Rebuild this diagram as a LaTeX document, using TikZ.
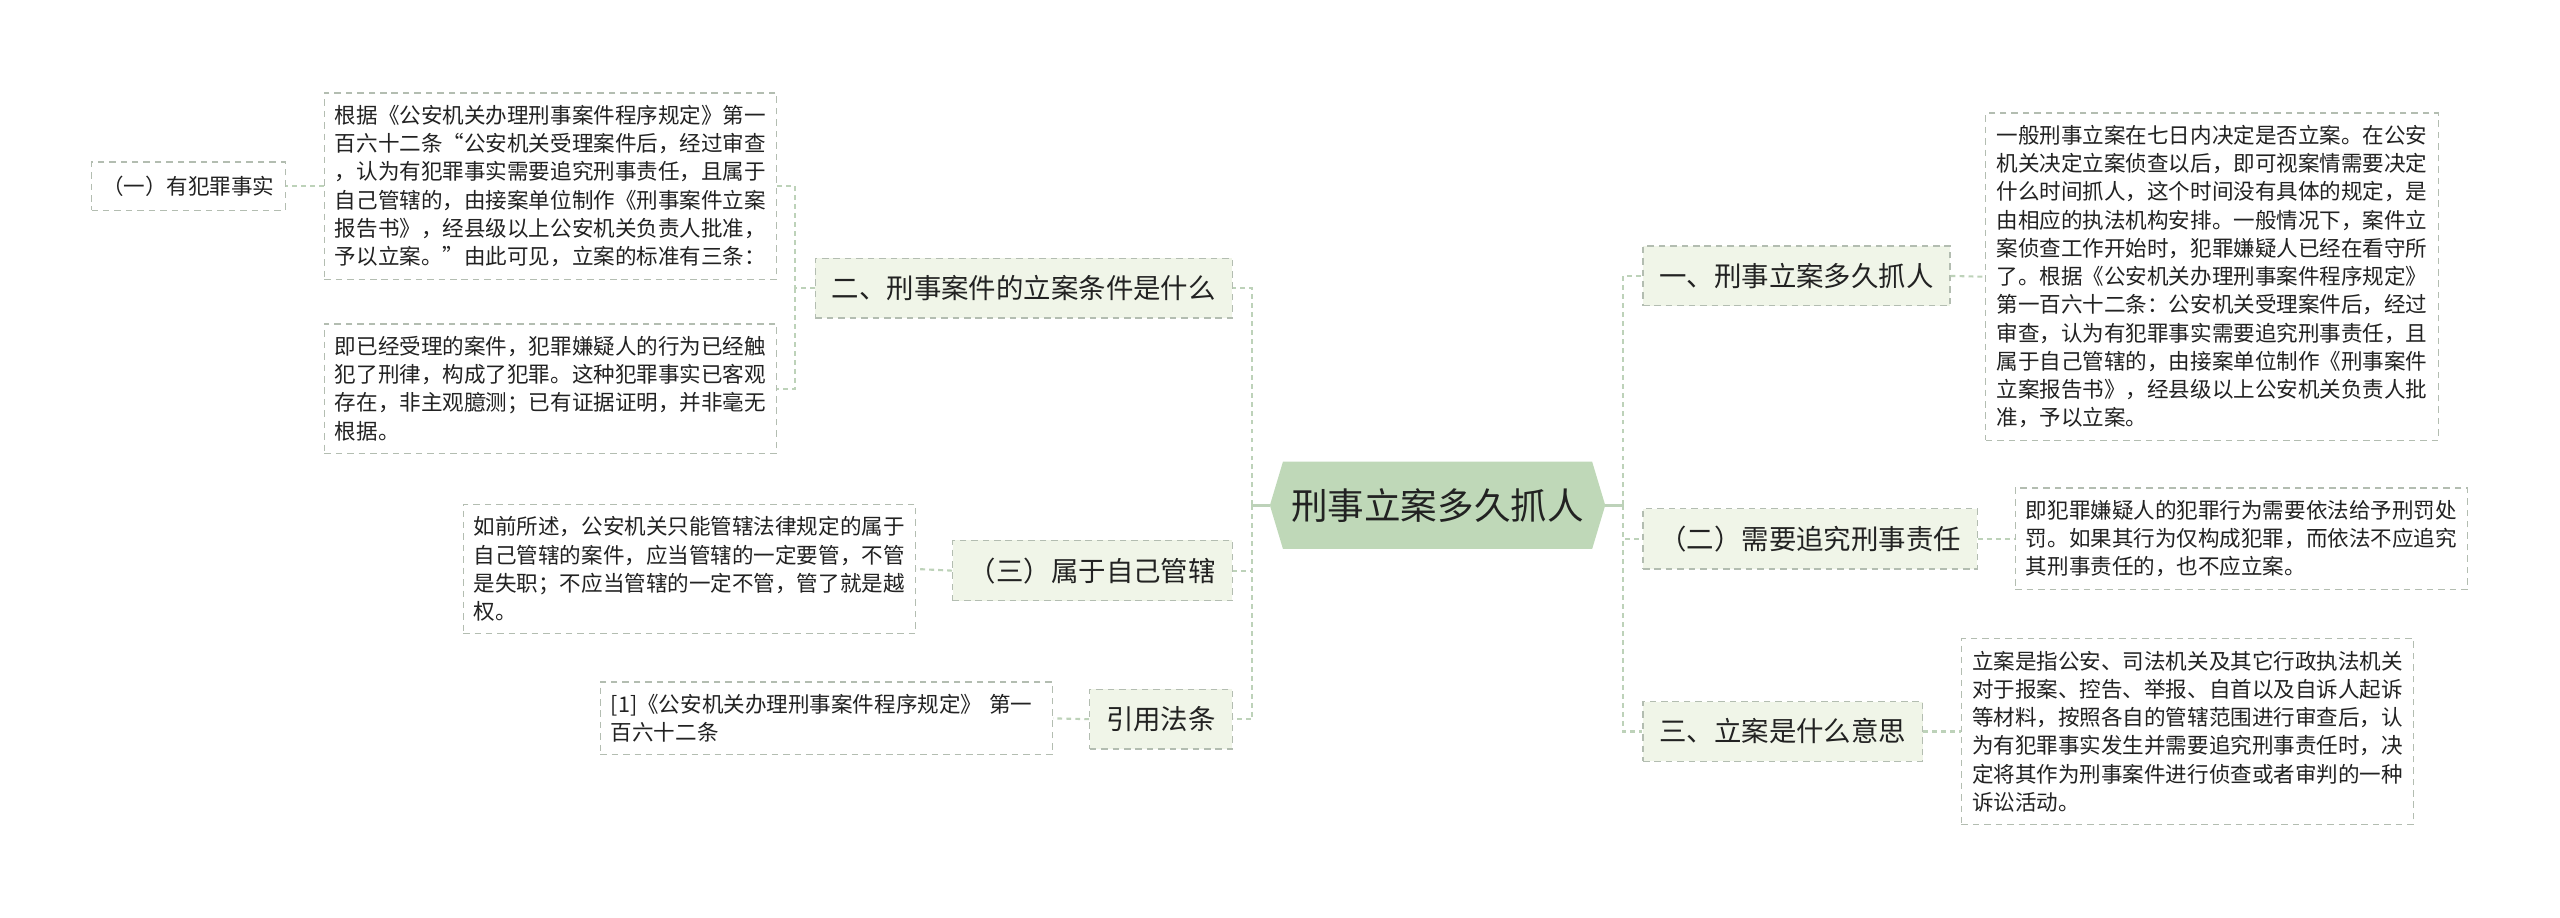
\documentclass[tikz,border=0pt]{standalone}
\usepackage{fontspec}
\setmainfont{Noto Sans CJK SC}
\usetikzlibrary{backgrounds}
\definecolor{rootgreen}{HTML}{BFD8B8}
\definecolor{topicfill}{HTML}{F0F5E8}
\definecolor{boxline}{HTML}{B3BDB1}
\definecolor{linkgreen}{HTML}{BDD2B9}
\definecolor{inkgrey}{HTML}{222222}
\begin{document}
\begin{tikzpicture}[x=1pt, y=-1pt,
	topic/.style={draw=boxline, line width=0.7pt, dash pattern=on 4pt off 3pt, fill=topicfill, inner xsep=10pt, inner ysep=10.5pt, font=\fontsize{16.8}{20}\selectfont, text=inkgrey},
	note/.style={draw=boxline, line width=0.7pt, dash pattern=on 4pt off 3pt, fill=white, text width=264pt, align=left, inner xsep=6.5pt, inner ysep=7.5pt, font=\fontsize{13.2}{17.3}\selectfont, text=inkgrey},
	leaf/.style={draw=boxline, line width=0.7pt, dash pattern=on 4pt off 3pt, fill=white, inner xsep=6.5pt, inner ysep=8.5pt, font=\fontsize{13.2}{16}\selectfont, text=inkgrey},
	link/.style={draw=linkgreen, line width=1.3pt, dash pattern=on 3pt off 2.5pt},
	trunk/.style={draw=linkgreen, line width=1.5pt}]
	\useasboundingbox (0,0) rectangle (1568,562);
	% centre
	\node[minimum width=205pt, minimum height=53pt, inner sep=0pt, font=\fontsize{22.4}{26}\selectfont, text=inkgrey] (root) at (880.5,309.5) {刑事立案多久抓人};
	\begin{scope}[on background layer]
		\fill[rootgreen] (root.west) -- ([xshift=8pt]root.north west) -- ([xshift=-8pt]root.north east) -- (root.east) -- ([xshift=-8pt]root.south east) -- ([xshift=8pt]root.south west) -- cycle;
	\end{scope}
	\coordinate (lspine) at (767,309.5);
	\coordinate (rspine) at (994,309.5);
	% left side
	\node[topic, anchor=east] (cond) at (755,176.5) {二、刑事案件的立案条件是什么};
	\node[note, anchor=east] (law) at (476,114) {根据《公安机关办理刑事案件程序规定》第一\\百六十二条“公安机关受理案件后，经过审查\\，认为有犯罪事实需要追究刑事责任，且属于\\自己管辖的，由接案单位制作《刑事案件立案\\报告书》，经县级以上公安机关负责人批准，\\予以立案。”由此可见，立案的标准有三条：};
	\node[leaf, anchor=east] (fact) at (175,114) {（一）有犯罪事实};
	\node[note, anchor=east] (crime) at (476,238) {即已经受理的案件，犯罪嫌疑人的行为已经触\\犯了刑律，构成了犯罪。这种犯罪事实已客观\\存在，非主观臆测；已有证据证明，并非毫无\\根据。};
	\node[topic, anchor=east] (juris) at (755,349.5) {（三）属于自己管辖};
	\node[note, anchor=east] (jurisnote) at (561,348.5) {如前所述，公安机关只能管辖法律规定的属于\\自己管辖的案件，应当管辖的一定要管，不管\\是失职；不应当管辖的一定不管，管了就是越\\权。};
	\node[topic, anchor=east] (cite) at (755,440.5) {引用法条};
	\node[note, anchor=east] (citenote) at (645,440) {[1]《公安机关办理刑事案件程序规定》 第一\\百六十二条};
	% right side
	\node[topic, anchor=west] (when) at (1006,169) {一、刑事立案多久抓人};
	\node[note, anchor=west] (whennote) at (1216,169.5) {一般刑事立案在七日内决定是否立案。在公安\\机关决定立案侦查以后，即可视案情需要决定\\什么时间抓人，这个时间没有具体的规定，是\\由相应的执法机构安排。一般情况下，案件立\\案侦查工作开始时，犯罪嫌疑人已经在看守所\\了。根据《公安机关办理刑事案件程序规定》\\第一百六十二条：公安机关受理案件后，经过\\审查，认为有犯罪事实需要追究刑事责任，且\\属于自己管辖的，由接案单位制作《刑事案件\\立案报告书》，经县级以上公安机关负责人批\\准，予以立案。};
	\node[topic, anchor=west] (duty) at (1006,330) {（二）需要追究刑事责任};
	\node[note, anchor=west] (dutynote) at (1234,330) {即犯罪嫌疑人的犯罪行为需要依法给予刑罚处\\罚。如果其行为仅构成犯罪，而依法不应追究\\其刑事责任的，也不应立案。};
	\node[topic, anchor=west] (mean) at (1006,448) {三、立案是什么意思};
	\node[note, anchor=west] (meannote) at (1201,448) {立案是指公安、司法机关及其它行政执法机关\\对于报案、控告、举报、自首以及自诉人起诉\\等材料，按照各自的管辖范围进行审查后，认\\为有犯罪事实发生并需要追究刑事责任时，决\\定将其作为刑事案件进行侦查或者审判的一种\\诉讼活动。};
	% connectors
	\draw[trunk] (root.west) -- (lspine);
	\draw[trunk] (root.east) -- (rspine);
	\draw[link] (lspine) |- (cond.east);
	\draw[link] (lspine) |- (juris.east);
	\draw[link] (lspine) |- (cite.east);
	\draw[link] (cond.west) -- ++(-12,0) coordinate (lsub) |- (law.east);
	\draw[link] (lsub) |- (crime.east);
	\draw[link] (law.west) -- (fact.east);
	\draw[link] (juris.west) -- (jurisnote.east);
	\draw[link] (cite.west) -- (citenote.east);
	\draw[link] (rspine) |- (when.west);
	\draw[link] (rspine) |- (duty.west);
	\draw[link] (rspine) |- (mean.west);
	\draw[link] (when.east) -- (whennote.west);
	\draw[link] (duty.east) -- (dutynote.west);
	\draw[link] (mean.east) -- (meannote.west);
\end{tikzpicture}
\end{document}
